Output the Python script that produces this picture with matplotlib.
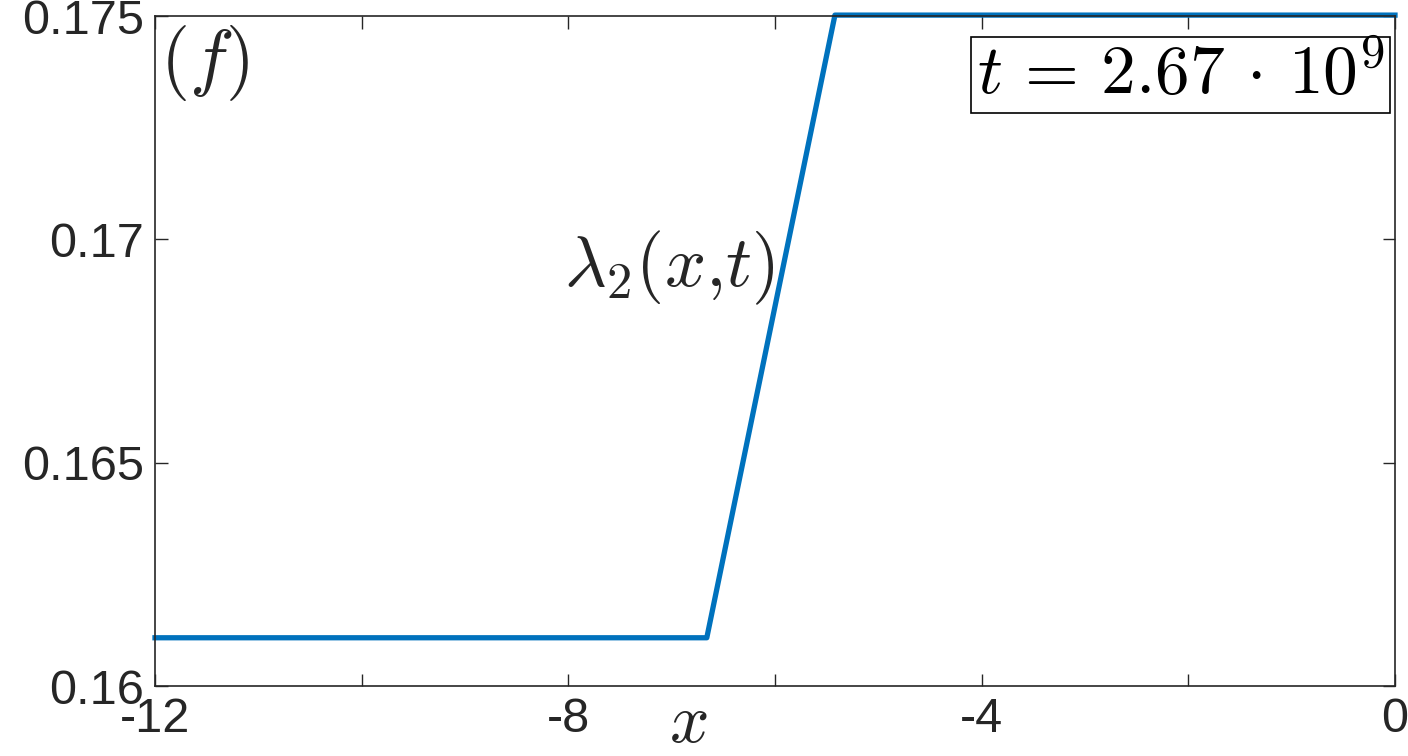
import numpy as np
import matplotlib
matplotlib.use("Agg")
import matplotlib.pyplot as plt

plt.rcParams["mathtext.fontset"] = "cm"
plt.rcParams["font.family"] = ["Liberation Sans", "DejaVu Sans"]

# profile lambda_2(x, t)
x_vals = [-12.0, -6.66, -5.42, 0.0]
lam2 = [0.16108, 0.16108, 0.17502, 0.17502]

x_ticks = [-12, -10, -8, -6, -4, -2, 0]
x_tick_labels = ["-12", "", "-8", "", "-4", "", "0"]
y_ticks = [0.16, 0.165, 0.17, 0.175]
y_tick_labels = ["0.16", "0.165", "0.17", "0.175"]

dark = "#262626"

fig = plt.figure(figsize=(14.08, 7.56), dpi=100)
ax = fig.add_axes([155 / 1408, 70 / 756, 1240 / 1408, 670 / 756])

ax.plot(x_vals, lam2, color="#0072BD", linewidth=3.8, clip_on=False,
        solid_joinstyle="round")

ax.set_xlim(-12, 0)
ax.set_ylim(0.16, 0.175)
ax.set_xticks(x_ticks)
ax.set_xticklabels(x_tick_labels)
ax.set_yticks(y_ticks)
ax.set_yticklabels(y_tick_labels)
ax.tick_params(direction="in", length=9, width=1, colors=dark,
               labelsize=35, top=True, right=True, pad=8)
for sp in ax.spines.values():
    sp.set_color(dark)
    sp.set_linewidth(1.2)

# panel label, curve label, time stamp
ax.text(0.004, 0.99, r"$(f)$", transform=ax.transAxes, ha="left", va="top",
        fontsize=54, color=dark)
ax.text(-7.02, 0.16935, r"$\lambda_2(x{,}t)$", ha="center", va="center",
        fontsize=52, color=dark)
ax.text(0.9915, 0.96, r"$t\,=\,2.67\,\cdot\,10^9$", transform=ax.transAxes,
        ha="right", va="top", fontsize=50, color="black",
        bbox=dict(boxstyle="square,pad=0.08", facecolor="white",
                  edgecolor="black", linewidth=1.2))
fig.text(688 / 1408, 1 - 724 / 756, r"$x$", ha="center", va="center",
         fontsize=50, color=dark)

fig.savefig("out.png", dpi=100)
